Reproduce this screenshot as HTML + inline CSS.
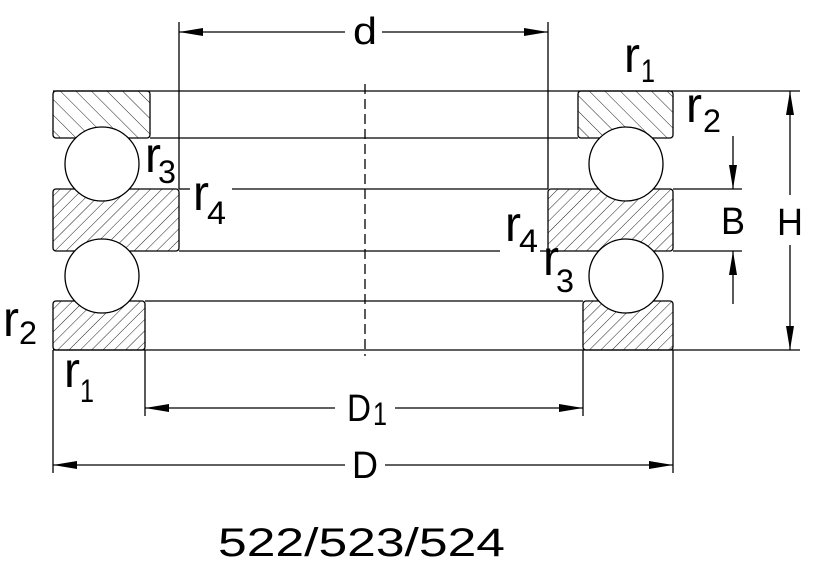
<!DOCTYPE html>
<html><head><meta charset="utf-8"><style>html,body{margin:0;padding:0;background:#fff}svg{display:block}</style></head>
<body>
<svg width="823" height="588" viewBox="0 0 823 588" xmlns="http://www.w3.org/2000/svg" font-family="Liberation Sans, sans-serif" fill="#000">
<defs>
<pattern id="hb" patternUnits="userSpaceOnUse" width="11" height="11" patternTransform="rotate(-45)"><line x1="0" y1="0" x2="0" y2="11" stroke="#222" stroke-width="1"/></pattern>
<pattern id="hf" patternUnits="userSpaceOnUse" width="8" height="8" patternTransform="rotate(45)"><line x1="0" y1="0" x2="0" y2="8" stroke="#222" stroke-width="1"/></pattern>
<marker id="a" markerWidth="24" markerHeight="10" refX="24" refY="5" orient="auto" markerUnits="userSpaceOnUse"><path d="M0,1 L24,5 L0,9 Z" fill="#000"/></marker>
</defs>
<g stroke="#000" stroke-width="1.3" fill="none">
<line x1="53" y1="91" x2="800" y2="91"/>
<line x1="53" y1="350" x2="800" y2="350"/>
<line x1="150" y1="138" x2="578" y2="138"/>
<line x1="179" y1="189" x2="190" y2="189"/><line x1="232" y1="189" x2="548" y2="189"/>
<line x1="673" y1="189" x2="742" y2="189"/>
<line x1="179" y1="251" x2="500" y2="251"/><line x1="540" y1="251" x2="548" y2="251"/>
<line x1="673" y1="251" x2="742" y2="251"/>
<line x1="145" y1="301" x2="583" y2="301"/>
<line x1="179" y1="22" x2="179" y2="189"/>
<line x1="548" y1="22" x2="548" y2="189"/>
<line x1="145" y1="350" x2="145" y2="416"/><line x1="583" y1="350" x2="583" y2="416"/>
<line x1="53" y1="350" x2="53" y2="473"/><line x1="673" y1="350" x2="673" y2="473"/>
<line x1="365" y1="84" x2="365" y2="356" stroke-dasharray="10,5"/>
<rect x="53" y="91" width="97" height="47" rx="3" fill="url(#hb)"/>
<rect x="578" y="91" width="95" height="47" rx="3" fill="url(#hb)"/>
<rect x="53" y="189" width="126" height="62" rx="3" fill="url(#hf)"/>
<rect x="548" y="189" width="125" height="62" rx="3" fill="url(#hf)"/>
<rect x="53" y="301" width="92" height="49" rx="3" fill="url(#hf)"/>
<rect x="583" y="301" width="90" height="49" rx="3" fill="url(#hf)"/>
<circle cx="102" cy="164" r="37" fill="#fff"/>
<circle cx="102" cy="276" r="37" fill="#fff"/>
<circle cx="626" cy="164" r="37" fill="#fff"/>
<circle cx="626" cy="276" r="37" fill="#fff"/>
<line x1="345" y1="32" x2="179" y2="32" marker-end="url(#a)"/>
<line x1="382" y1="32" x2="548" y2="32" marker-end="url(#a)"/>
<line x1="335" y1="408" x2="145" y2="408" marker-end="url(#a)"/>
<line x1="395" y1="408" x2="583" y2="408" marker-end="url(#a)"/>
<line x1="345" y1="465" x2="53" y2="465" marker-end="url(#a)"/>
<line x1="385" y1="465" x2="673" y2="465" marker-end="url(#a)"/>
<line x1="790" y1="195" x2="790" y2="91" marker-end="url(#a)"/>
<line x1="790" y1="245" x2="790" y2="350" marker-end="url(#a)"/>
<line x1="733" y1="136" x2="733" y2="189" marker-end="url(#a)"/>
<line x1="733" y1="304" x2="733" y2="251" marker-end="url(#a)"/>
</g>
<g font-size="38">
<text x="365" y="44" text-anchor="middle" textLength="24" lengthAdjust="spacingAndGlyphs">d</text>
<text x="624" y="72" font-size="50" textLength="16" lengthAdjust="spacingAndGlyphs">r</text><text x="641" y="82" font-size="32" textLength="14" lengthAdjust="spacingAndGlyphs">1</text>
<text x="686" y="122" font-size="50" textLength="16" lengthAdjust="spacingAndGlyphs">r</text><text x="703" y="132" font-size="32" textLength="18" lengthAdjust="spacingAndGlyphs">2</text>
<text x="145" y="172" font-size="50" textLength="16" lengthAdjust="spacingAndGlyphs">r</text><text x="158" y="183" font-size="32" textLength="18" lengthAdjust="spacingAndGlyphs">3</text>
<text x="193" y="210" font-size="50" textLength="16" lengthAdjust="spacingAndGlyphs">r</text><text x="207" y="224" font-size="32" textLength="19" lengthAdjust="spacingAndGlyphs">4</text>
<text x="505" y="241" font-size="50" textLength="16" lengthAdjust="spacingAndGlyphs">r</text><text x="519" y="252" font-size="32" textLength="19" lengthAdjust="spacingAndGlyphs">4</text>
<text x="543" y="275" font-size="50" textLength="16" lengthAdjust="spacingAndGlyphs">r</text><text x="556" y="292" font-size="32" textLength="18" lengthAdjust="spacingAndGlyphs">3</text>
<text x="3" y="336" font-size="50" textLength="16" lengthAdjust="spacingAndGlyphs">r</text><text x="19" y="344" font-size="32" textLength="18" lengthAdjust="spacingAndGlyphs">2</text>
<text x="64" y="387" font-size="50" textLength="16" lengthAdjust="spacingAndGlyphs">r</text><text x="80" y="402" font-size="32" textLength="14" lengthAdjust="spacingAndGlyphs">1</text>
<text x="733" y="234" text-anchor="middle" textLength="24" lengthAdjust="spacingAndGlyphs">B</text>
<text x="790" y="235" text-anchor="middle" textLength="26" lengthAdjust="spacingAndGlyphs">H</text>
<text x="347" y="421" textLength="24" lengthAdjust="spacingAndGlyphs">D</text><text x="373" y="425" font-size="32" textLength="14" lengthAdjust="spacingAndGlyphs">1</text>
<text x="365" y="478" text-anchor="middle" textLength="26" lengthAdjust="spacingAndGlyphs">D</text>
<text x="218" y="556" font-size="40" textLength="287" lengthAdjust="spacingAndGlyphs">522/523/524</text>
</g>
</svg>
</body></html>
